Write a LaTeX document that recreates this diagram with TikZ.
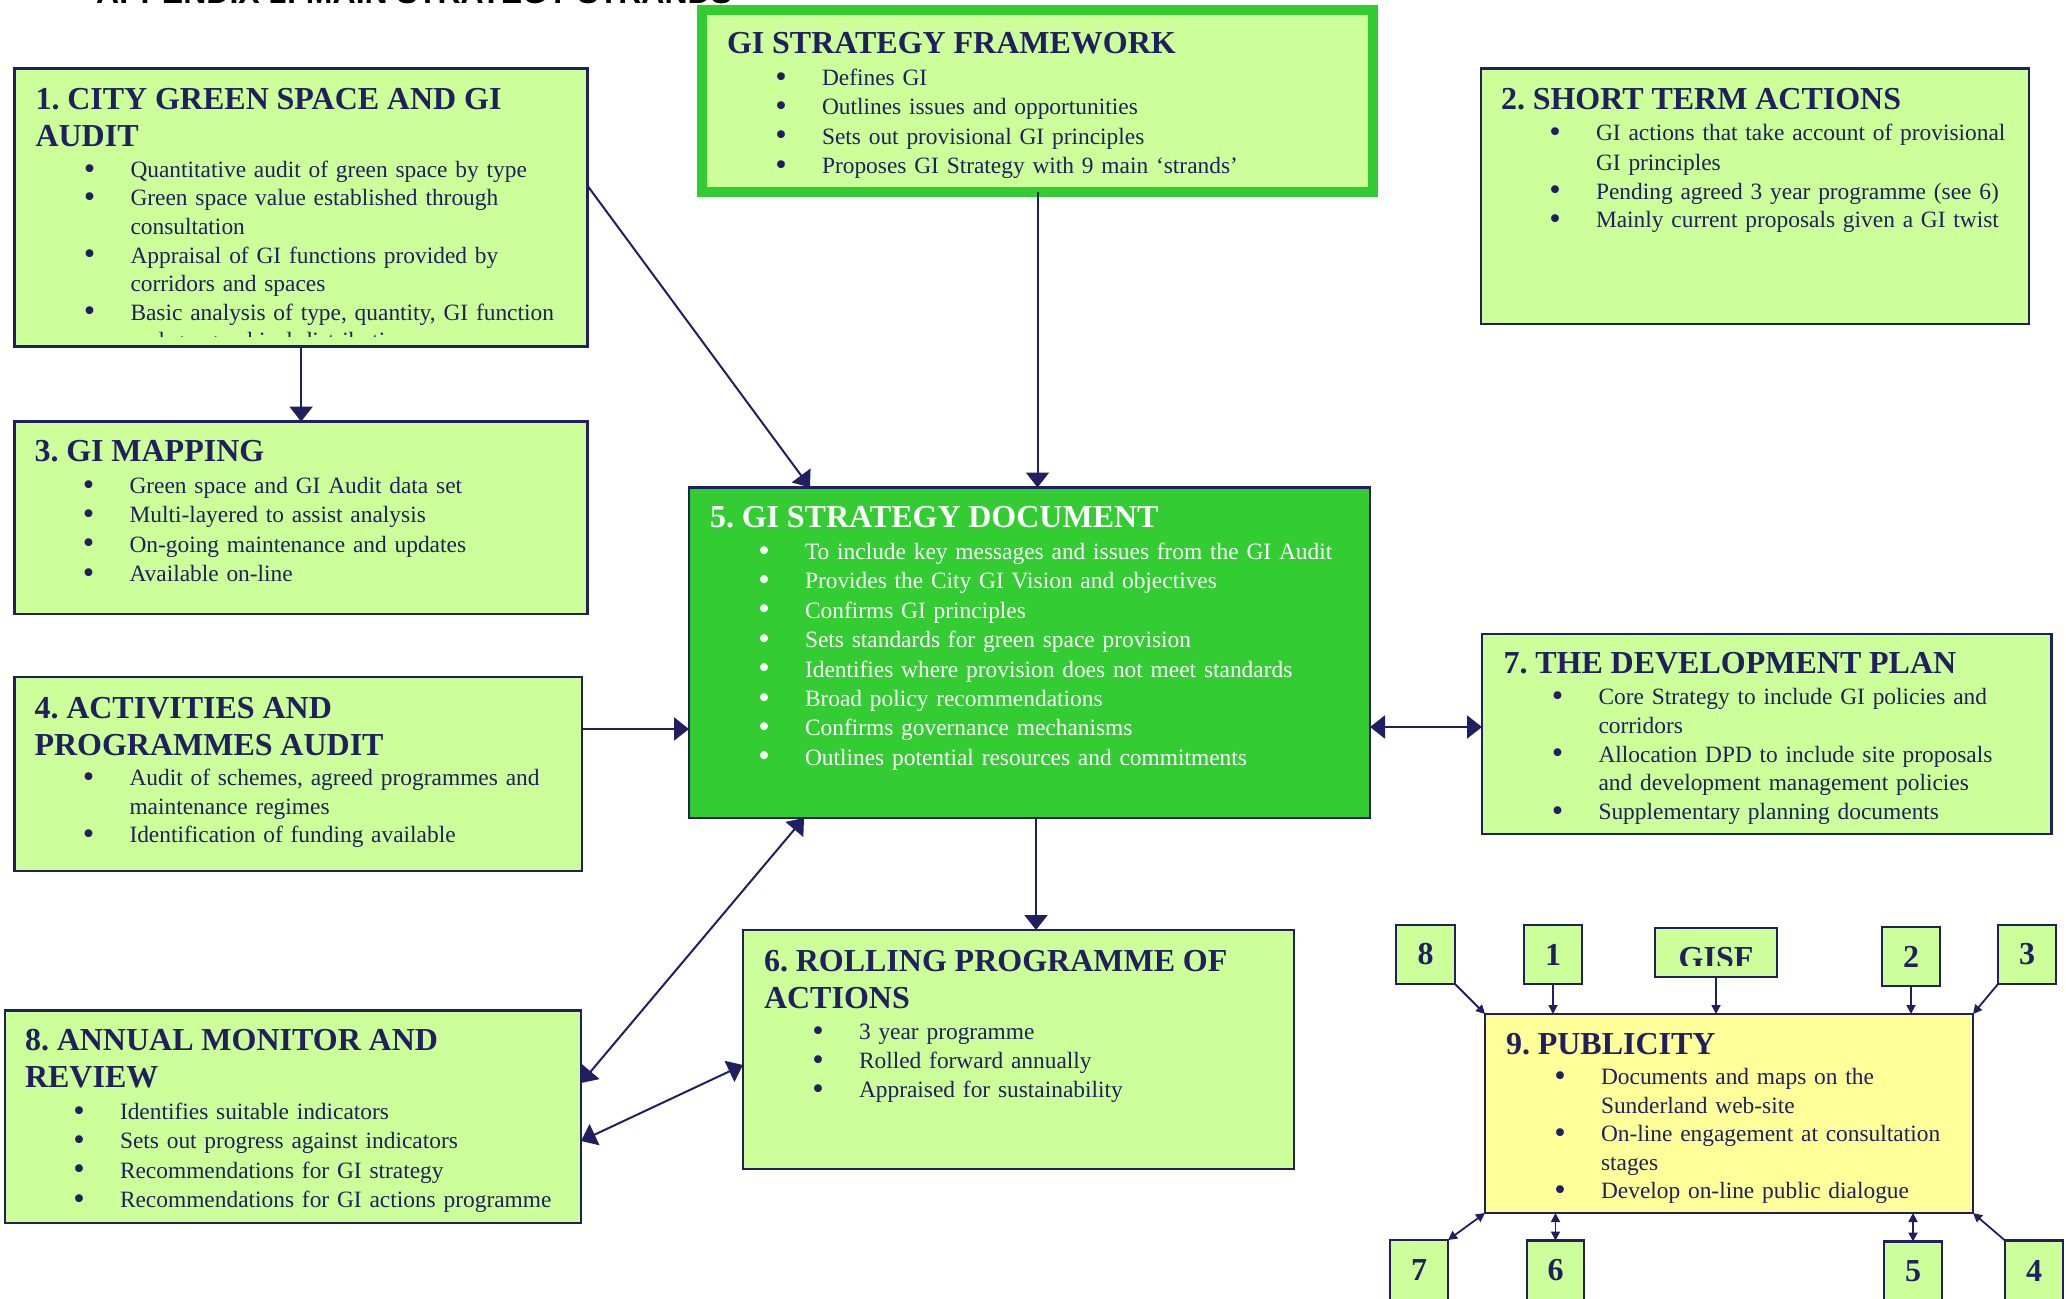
\documentclass[tikz,border=0pt]{standalone}
\usepackage{fontspec}
\setmainfont{Liberation Serif}
\newfontfamily\titlefont{Liberation Sans}
\usetikzlibrary{arrows.meta,calc}
\definecolor{lg}{HTML}{CCFF99}
\definecolor{dg}{HTML}{33CC33}
\definecolor{navy}{HTML}{201F60}
\definecolor{ylw}{HTML}{FFFF99}
\newcommand\hd[1]{{\fontsize{32}{37}\selectfont\bfseries #1\par}\vspace{2.5pt}}
\newcommand\bul{\raisebox{-1.6pt}{\scalebox{1.4}{\textbullet}}}
\newcommand\bi[1]{\par\noindent\hangindent=95pt\hangafter=1\hspace*{54pt}\makebox[0pt]{\bul}\hspace*{41pt}#1\par}
\begin{document}
\frenchspacing
\begin{tikzpicture}[x=1pt,y=-1pt,
  box/.style={draw=navy, line width=2.5pt, fill=lg, anchor=north west, inner sep=0pt, outer sep=0pt},
  sbox/.style={box, text=navy, font=\fontsize{32}{37}\selectfont\bfseries},
  txt/.style={inner sep=0pt, outer sep=0pt, anchor=base west, text width=#1, align=left, text=navy, font=\fontsize{23.4}{29.4}\selectfont},
  con/.style={navy, line width=2pt, >={Triangle[length=15pt,width=23pt]}},
  scon/.style={navy, line width=1.8pt, >={Triangle[length=9pt,width=9pt]}}]
\useasboundingbox (0,0) rectangle (2066,1298);
\fill[white] (0,0) rectangle (2066,1298);
\begin{scope}
\clip (0,0) rectangle (2066,1298);

\node[anchor=base west, inner sep=0pt, font={\titlefont\fontsize{32}{37}\selectfont\bfseries}] (title) at (96,3.5) {APPENDIX 1: MAIN STRATEGY STRANDS};

% boxes
\node[box, draw=dg, line width=10pt, minimum width=671pt, minimum height=182pt] (fw) at (702,10) {};
\node[box, minimum width=573.2pt, minimum height=278pt] (b1) at (14.5,68.5) {};
\node[box, minimum width=548pt, minimum height=255.5pt] (b2) at (1481,68.5) {};
\node[box, minimum width=573.2pt, minimum height=192.4pt] (b3) at (14.5,421.6) {};
\node[box, minimum width=567.5pt, minimum height=194pt] (b4) at (14.5,677) {};
\node[box, fill=dg, minimum width=681pt, minimum height=330.5pt] (b5) at (689,487.5) {};
\node[box, minimum width=569.5pt, minimum height=200pt] (b7) at (1482,634) {};
\node[box, minimum width=551pt, minimum height=239pt] (b6) at (743,930) {};
\node[box, minimum width=576pt, minimum height=212.4pt] (b8) at (5,1010.6) {};
\node[box, fill=ylw, minimum width=488pt, minimum height=199pt] (b9) at (1485,1014) {};

% small boxes
\node[sbox, minimum width=59pt, minimum height=59pt] (s8) at (1396,925) {8};
\node[sbox, minimum width=58pt, minimum height=59pt] (s1) at (1524,925) {1};
\node[sbox, minimum width=122pt, minimum height=49pt] (gisf) at (1655,928) {};
\node[sbox, minimum width=58pt, minimum height=59pt] (s2) at (1882,927) {2};
\node[sbox, minimum width=58pt, minimum height=59pt] (s3) at (1998,925) {3};
\node[sbox, minimum width=58pt, minimum height=60pt] (s7) at (1390,1240) {7};
\node[sbox, minimum width=57pt, minimum height=60pt] (s6) at (1527,1240.5) {6};
\node[sbox, minimum width=58pt, minimum height=60pt] (s5) at (1884,1241.5) {5};
\node[sbox, minimum width=58pt, minimum height=60pt] (s4) at (2005,1240.5) {4};
\begin{scope}
\clip (1655,928) rectangle (1777,965);
\node[anchor=base, inner sep=0pt, text=navy, font=\fontsize{32}{37}\selectfont\bfseries] (gisft) at (1716,968) {GISF};
\end{scope}

% texts
\node[txt=640pt] (tfw) at ([shift={(25,43.5)}]fw.north west) {\hd{GI STRATEGY FRAMEWORK}%
\bi{Defines GI}\bi{Outlines issues and opportunities}\bi{Sets out provisional GI principles}\bi{Proposes GI Strategy with 9 main ‘strands’}};

\begin{scope}
\clip (14.5,68.5) rectangle (587.7,336);
\node[txt=545pt, font=\fontsize{23.4}{28.5}\selectfont] (t1) at ([shift={(21,41)}]b1.north west) {\hd{1. CITY GREEN SPACE AND GI\newline AUDIT}%
\bi{Quantitative audit of green space by type}\bi{Green space value established through\newline consultation}\bi{Appraisal of GI functions provided by\newline corridors and spaces}\bi{Basic analysis of type, quantity, GI function\newline and geographical distribution}};
\end{scope}

\node[txt=520pt, font=\fontsize{23.4}{29}\selectfont] (t2) at ([shift={(20,41)}]b2.north west) {\hd{2. SHORT TERM ACTIONS}%
\bi{GI actions that take account of provisional\newline GI principles}\bi{Pending agreed 3 year programme (see 6)}\bi{Mainly current proposals given a GI twist}};

\node[txt=545pt] (t3) at ([shift={(20,40)}]b3.north west) {\hd{3. GI MAPPING}%
\bi{Green space and GI Audit data set}\bi{Multi-layered to assist analysis}\bi{On-going maintenance and updates}\bi{Available on-line}};

\node[txt=540pt, font=\fontsize{23.4}{28.4}\selectfont] (t4) at ([shift={(20,41)}]b4.north west) {\hd{4. ACTIVITIES AND\newline PROGRAMMES AUDIT}%
\bi{Audit of schemes, agreed programmes and\newline maintenance regimes}\bi{Identification of funding available}};

\node[txt=650pt, text=white] (t5) at ([shift={(21,40)}]b5.north west) {\hd{5. GI STRATEGY DOCUMENT}%
\bi{To include key messages and issues from the GI Audit}\bi{Provides the City GI Vision and objectives}\bi{Confirms GI principles}\bi{Sets standards for green space provision}\bi{Identifies where provision does not meet standards}\bi{Broad policy recommendations}\bi{Confirms governance mechanisms}\bi{Outlines potential resources and commitments}};

\node[txt=540pt, font=\fontsize{23.4}{28.7}\selectfont] (t7) at ([shift={(21.5,39.5)}]b7.north west) {\hd{7. THE DEVELOPMENT PLAN}%
\bi{Core Strategy to include GI policies and\newline corridors}\bi{Allocation DPD to include site proposals\newline and development management policies}\bi{Supplementary planning documents}};

\node[txt=520pt, font=\fontsize{23.4}{29}\selectfont] (t6) at ([shift={(21,41)}]b6.north west) {\hd{6. ROLLING PROGRAMME OF\newline ACTIONS}%
\bi{3 year programme}\bi{Rolled forward annually}\bi{Appraised for sustainability}};

\node[txt=550pt] (t8) at ([shift={(20,40)}]b8.north west) {\hd{8. ANNUAL MONITOR AND\newline REVIEW}%
\bi{Identifies suitable indicators}\bi{Sets out progress against indicators}\bi{Recommendations for GI strategy}\bi{Recommendations for GI actions programme}};

\node[txt=460pt, font=\fontsize{23.4}{28.4}\selectfont] (t9) at ([shift={(21,40)}]b9.north west) {\hd{9. PUBLICITY}%
\bi{Documents and maps on the\newline Sunderland web-site}\bi{On-line engagement at consultation\newline stages}\bi{Develop on-line public dialogue}};

% connectors
\draw[con,->] (b1.south) -- (b3.north);
\draw[con,->] (b1.east |- 0,186) -- (b5.north -| 810,0);
\draw[con,->] (fw.south) -- (fw.south |- b5.north);
\draw[con,->] (b4.east |- 0,729) -- (b5.west |- 0,729);
\draw[con,<->] (b5.east |- 0,727) -- (b7.west |- 0,727);
\draw[con,->] (b5.south -| 1036,0) -- (b6.north -| 1036,0);
\draw[con,<->] (b5.south -| 804,0) -- (b8.east |- 0,1083);
\draw[con,<->] (b6.west |- 0,1065) -- (b8.east |- 0,1141);

\draw[scon,->] (s8.south east) -- (b9.north west);
\draw[scon,->] (s1.south) -- (s1.south |- b9.north);
\draw[scon,->] (gisf.south) -- (gisf.south |- b9.north);
\draw[scon,->] (s2.south) -- (s2.south |- b9.north);
\draw[scon,->] (s3.south west) -- (b9.north east);
\draw[scon,<->] (s7.north east) -- (b9.south west);
\draw[scon,<->] (s6.north) -- (s6.north |- b9.south);
\draw[scon,<->] (s5.north) -- (s5.north |- b9.south);
\draw[scon,->] (s4.north west) -- (b9.south east);
\end{scope}
\end{tikzpicture}
\end{document}
